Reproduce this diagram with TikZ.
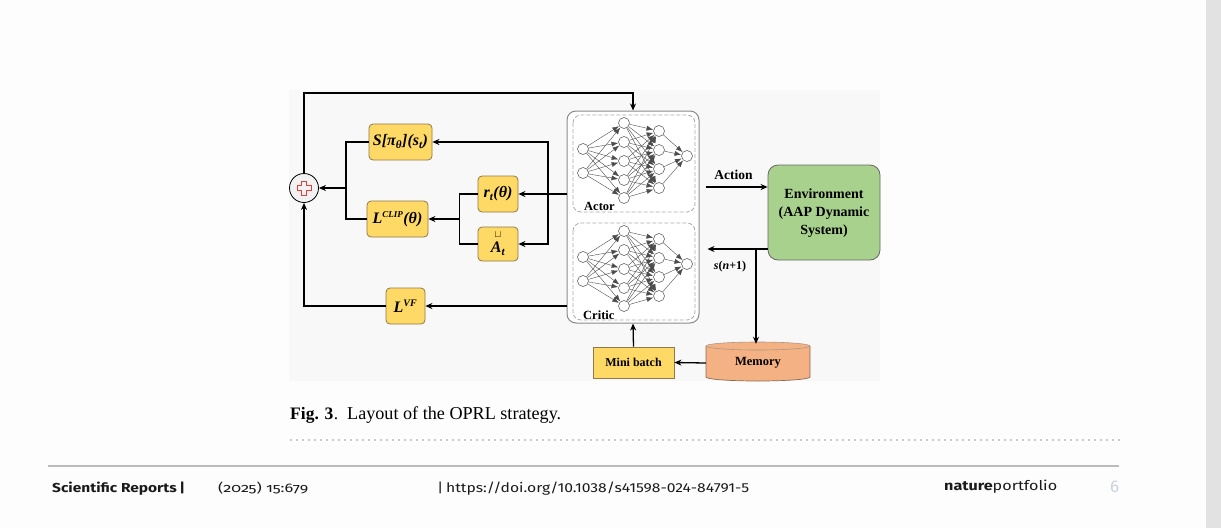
\documentclass[tikz,border=0pt]{standalone}
\usepackage{fontspec}
\setmainfont{Liberation Serif}
\newfontfamily\footfont{Fira Sans}
\newfontfamily\footfontos[Numbers=OldStyle]{Fira Sans}
\usetikzlibrary{arrows.meta}
\definecolor{pagebg}{HTML}{FDFDFD}
\definecolor{figbg}{HTML}{F8F8F8}
\definecolor{scrollc}{HTML}{E2E2E2}
\definecolor{yfill}{HTML}{FFD966}
\definecolor{ybord}{HTML}{8C7A4A}
\definecolor{envfill}{HTML}{A9D18E}
\definecolor{memfill}{HTML}{F4B183}
\definecolor{memborder}{HTML}{8A6A50}
\definecolor{nngray}{HTML}{8A8A8A}
\definecolor{dashgray}{HTML}{AAAAAA}
\definecolor{crossred}{HTML}{E04040}
\definecolor{dotc}{HTML}{C5CCD6}
\definecolor{footline}{HTML}{BCBCBC}
\definecolor{pagenum}{HTML}{C9D3DE}
\definecolor{foottext}{HTML}{1A1A1A}
\newcommand\nnlayer[2]{%
  % #1 prefix, #2 vertical shift
  \begin{scope}[shift={(0,#2)}]
    \foreach \n/\yy in {1/149,2/173} \node[neuron] (#1i\n) at (583,\yy) {};
    \foreach \n/\yy in {1/123,2/142,3/161,4/180,5/198} \node[neuron] (#1h\n) at (624,\yy) {};
    \foreach \n/\yy in {1/131,2/150,3/169,4/188} \node[neuron] (#1g\n) at (659,\yy) {};
    \node[neuron] (#1o) at (687,156) {};
    \foreach \a in {1,2} \foreach \b in {1,...,5} \draw[nnedge] (#1i\a) -- (#1h\b);
    \foreach \a in {1,...,5} \foreach \b in {1,...,4} \draw[nnedge] (#1h\a) -- (#1g\b);
    \foreach \a in {1,...,4} \draw[nnedge] (#1g\a) -- (#1o);
  \end{scope}}
\begin{document}
\begin{tikzpicture}[x=1pt,y=-1pt,
  ybox/.style={draw=ybord, fill=yfill, rounded corners=4pt, line width=0.8pt, inner sep=0pt,
    font=\fontsize{16}{18}\selectfont\bfseries\itshape},
  conn/.style={line width=1.3pt, -{Stealth[length=7pt,width=6pt]}},
  plain/.style={line width=1.3pt},
  neuron/.style={circle, draw=black!70, fill=white, line width=0.5pt, minimum size=11pt, inner sep=0pt},
  nnedge/.style={draw=black!70, line width=0.4pt, -{Latex[length=6.5pt,width=5pt]}, shorten >=0.3pt},
  dashbox/.style={draw=dashgray, dash pattern=on 4pt off 2pt, rounded corners=8pt, line width=0.8pt},
  lbl/.style={inner sep=0pt, font=\fontsize{12.5}{14}\selectfont\bfseries},
  captxt/.style={anchor=base west, inner sep=0pt, font=\fontsize{17.5}{20}\selectfont}
]
\useasboundingbox (0,0) rectangle (1221,528);
\fill[pagebg] (0,0) rectangle (1221,528);
\fill[scrollc] (1206,0) rectangle (1221,528);
\fill[figbg] (289,90) rectangle (880,381);

% NN block
\node[draw=nngray, fill=white, rounded corners=9pt, line width=1pt, minimum width=132pt, minimum height=212pt, inner sep=0pt] (nn) at (633,217) {};
\draw[dashbox] (573,115) rectangle (695,212);
\draw[dashbox] (573,223) rectangle (695,320);
\nnlayer{a}{0}
\nnlayer{c}{108}
\node[lbl, anchor=base west] (actl) at (584,210) {Actor};
\node[lbl, anchor=base west] (crtl) at (583,319) {Critic};

% boxes
\node[ybox, minimum width=63pt, minimum height=36pt] (S) at (400.5,142) {S[π\textsubscript{θ}](s\textsubscript{t})};
\node[ybox, minimum width=61pt, minimum height=36pt] (L) at (397.5,219) {L\textsuperscript{\fontsize{9}{9}\selectfont CLIP}(θ)};
\node[ybox, minimum width=40pt, minimum height=36pt] (rt) at (498,194) {r\textsubscript{t}(θ)};
\node[ybox, minimum width=40pt, minimum height=34pt, align=center] (A) at (498,244) {\raisebox{0pt}[5pt][0pt]{\fontsize{10}{10}\selectfont\upshape$\sqcup$}\\[-3pt]A\textsubscript{t}};
\node[ybox, minimum width=39pt, minimum height=36pt] (LVF) at (405.5,306) {L\textsuperscript{\fontsize{10}{10}\selectfont VF}};
\node[circle, draw=black, fill=white!95!black, line width=0.8pt, minimum size=29pt, inner sep=0pt] (plus) at (304,188) {};
\draw[crossred, line width=0.7pt] (301.5,181) -- (306.5,181) -- (306.5,185.5) -- (311,185.5) -- (311,190.5) -- (306.5,190.5) -- (306.5,195) -- (301.5,195) -- (301.5,190.5) -- (297,190.5) -- (297,185.5) -- (301.5,185.5) -- cycle;

\node[draw=black!60, fill=envfill, rounded corners=10pt, line width=0.8pt, minimum width=112pt, minimum height=95pt, inner sep=0pt,
  font=\fontsize{14}{18}\selectfont\bfseries] (env) at (824,212.5) {\raisebox{-3pt}{\begin{tabular}{@{}c@{}}Environment\\(AAP Dynamic\\System)\end{tabular}}};

\node[draw=ybord, fill=yfill, line width=0.8pt, minimum width=81pt, minimum height=31pt, inner sep=0pt, font=\fontsize{12}{14}\selectfont\bfseries] (mb) at (633.5,362.5) {Mini batch};

% memory cylinder
\fill[memfill] (706,346) -- (706,377) arc[start angle=180, end angle=0, x radius=52, y radius=4] -- (810,346) arc[start angle=0, end angle=-180, x radius=52, y radius=4] -- cycle;
\draw[memborder, line width=0.7pt] (706,346) -- (706,377) arc[start angle=180, end angle=0, x radius=52, y radius=4] -- (810,346);
\draw[memborder!70, line width=0.6pt] (758,346) ellipse[x radius=52, y radius=4];
\node[inner sep=0pt, minimum width=104pt, minimum height=38pt, font=\fontsize{12.5}{14}\selectfont\bfseries] (mem) at (758,363) {Memory};

% coordinates
\coordinate (top) at (633,93);
\coordinate (j) at (548,194);
\coordinate (k) at (459.5,219);
\coordinate (m) at (346,188);
\coordinate (act) at (705,187);
\coordinate (snx) at (756,249);

% connectors
\draw[conn] (plus.north) |- (top) -- (nn.north);
\draw[conn] (nn.west |- rt.east) -- (rt.east);
\draw[conn] (j) |- (S.east);
\draw[conn] (j) |- (A.east);
\draw[plain] (rt.west) -| (k) |- (A.west);
\draw[conn] (k) -- (L.east);
\draw[plain] (S.west) -| (m) |- (L.west);
\draw[conn] (m) -- (plus.east);
\draw[conn] (nn.west |- LVF.east) -- (LVF.east);
\draw[conn] (LVF.west) -| (plus.south);
\draw[conn, shorten <=6pt] (nn.east |- act) -- (env.west |- act) node[midway, above=7pt, inner sep=0pt, font=\fontsize{13.5}{14}\selectfont\bfseries] (actlbl) {Action};
\draw[conn, shorten >=8pt] (env.west |- snx) -- (nn.east |- snx);
\node[inner sep=0pt, anchor=base, font=\fontsize{12}{12}\selectfont\bfseries] (snl) at (730,269) {\textit{s}(\textit{n}+1)};
\draw[conn] (snx) -- (snx |- mem.north);
\draw[conn] (mem.west) -- (mb.east);
\draw[conn] (mb.north) -- (nn.south);

% caption
\node[captxt] (capa) at (290,419) {\bfseries Fig. 3};
\node[captxt] (capb) at (capa.base east) {.};
\node[captxt] (capc) at (347,419) {\resizebox{214pt}{!}{Layout of the OPRL strategy.}};
\draw[dotc, line width=1.5pt, dash pattern=on 1.5pt off 4.5pt] (290,440) -- (1120,440);
\draw[footline, line width=2pt] (48,466) -- (1119,466);

% footer
\node[anchor=base west, inner sep=0pt, text=foottext] (f1) at (52,492) {\resizebox{133pt}{10.5pt}{\footfont\bfseries Scientific Reports\,|}};
\node[anchor=base west, inner sep=0pt, text=foottext] (f2) at (218,492) {\resizebox{90pt}{10.5pt}{\footfontos (2025) 15:679}};
\node[anchor=base west, inner sep=0pt, text=foottext] (f3) at (437,492) {\resizebox{312pt}{10.5pt}{\footfont |\,https://doi.org/10.1038/s41598-024-84791-5}};
\node[anchor=base west, inner sep=0pt, text=foottext] (f4) at (944,490) {\resizebox{113pt}{10.5pt}{\footfont\textbf{nature}portfolio}};
\node[anchor=base west, inner sep=0pt, text=pagenum, font=\footfont\fontsize{17}{18}\selectfont] (f5) at (1110,492) {6};
\end{tikzpicture}
\end{document}
